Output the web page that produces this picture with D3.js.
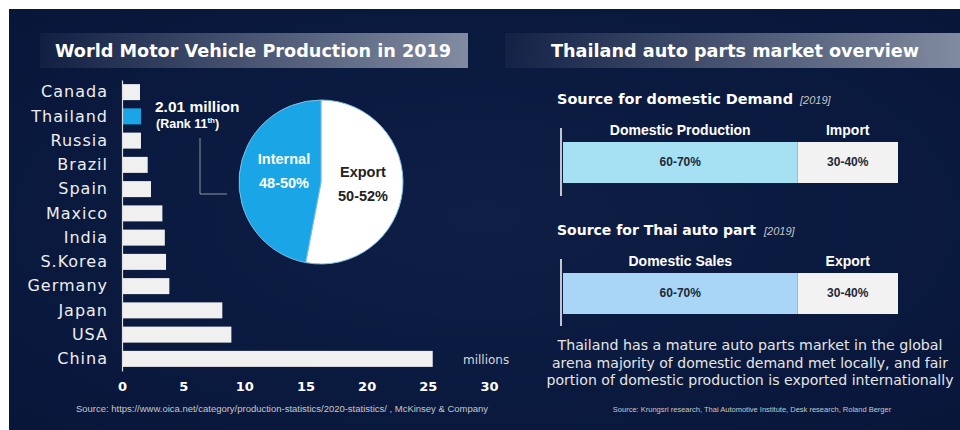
<!DOCTYPE html>
<html>
<head>
<meta charset="utf-8">
<script src="https://cdn.jsdelivr.net/npm/d3@7"></script>
<style>
  html, body { margin: 0; padding: 0; background: #ffffff; }
  svg { display: block; }
</style>
</head>
<body>
<svg id="mainSVG"></svg>
<script>
/* ---------- size ---------- */

var WIDTH = 960,
    HEIGHT = 430;

/* ---------- data ---------- */

var countries = ["Canada", "Thailand", "Russia", "Brazil", "Spain", "Maxico",
                 "India", "S.Korea", "Germany", "Japan", "USA", "China"];
var production = [1.47, 1.55, 1.55, 2.1, 2.37, 3.3, 3.5, 3.6, 3.87, 8.2, 8.94, 25.4];
var xTicks = [0, 5, 10, 15, 20, 25, 30];

var pieLabels = ["Export", "Internal"];
var pieValues = [53, 47];
var pieTexts = ["50-52%", "48-50%"];

var demandParts = ["Domestic Production", "Import"];
var demandValues = [70, 30];
var partParts = ["Domestic Sales", "Export"];
var partValues = [70, 30];
var shareTexts = ["60-70%", "30-40%"];

var noteLines = [
    "Thailand has a mature auto parts market in the global",
    "arena majority of domestic demand met locally, and fair",
    "portion of domestic production is exported internationally"
];

/* ---------- colours ---------- */

var barColor = "#f0f0f0",
    thaiColor = "#1aa6e6",
    textColor = "#eeeeee",
    lightBlue1 = "#a6e0f3",
    lightBlue2 = "#a9d6f6",
    greyWhite = "#f2f2f2",
    darkText = "#1c2838";

var geo = "'DejaVu Sans', 'Open Sans', sans-serif",
    arial = "'Liberation Sans', Arial, sans-serif";

/* ---------- svg ---------- */

var svg = d3.select("#mainSVG")
    .attr("width", WIDTH)
    .attr("height", HEIGHT);

var defs = svg.append("defs");

var grad = defs.append("linearGradient")
    .attr("id", "bandGrad")
    .attr("x1", "0%").attr("x2", "100%");
grad.append("stop").attr("offset", "0%").attr("stop-color", "#b4bccb").attr("stop-opacity", 0.05);
grad.append("stop").attr("offset", "100%").attr("stop-color", "#b4bccb").attr("stop-opacity", 0.7);

var bgGrad = defs.append("radialGradient")
    .attr("id", "bgGrad")
    .attr("cx", "50%").attr("cy", "50%").attr("r", "70%");
bgGrad.append("stop").attr("offset", "0%").attr("stop-color", "#0e1e45");
bgGrad.append("stop").attr("offset", "100%").attr("stop-color", "#08163a");

svg.append("rect")
    .attr("x", 9).attr("y", 9)
    .attr("width", WIDTH - 9).attr("height", HEIGHT - 9)
    .attr("fill", "url(#bgGrad)");

// cut-off slide title above the panel
svg.append("text")
    .attr("x", 373).attr("y", -4)
    .attr("font-family", geo).attr("font-size", 20).attr("font-weight", "bold")
    .attr("fill", "#2a4a8a")
    .text("p");

/* ---------- title bands ---------- */

function titleBand(x0, x1, label, cx, len) {
    svg.append("rect")
        .attr("x", x0).attr("y", 33)
        .attr("width", x1 - x0).attr("height", 35)
        .attr("fill", "url(#bandGrad)");
    svg.append("text")
        .attr("x", cx).attr("y", 57)
        .attr("text-anchor", "middle")
        .attr("font-family", geo).attr("font-size", 18).attr("font-weight", "bold")
        .attr("fill", "#ffffff")
        .attr("textLength", len).attr("lengthAdjust", "spacingAndGlyphs")
        .text(label);
}

titleBand(40, 468, "World Motor Vehicle Production in 2019", 253, 396);
titleBand(505, 960, "Thailand auto parts market overview", 735, 368);

/* ---------- bar chart ---------- */

var x = d3.scaleLinear().domain([0, 30]).range([122, 489]);

var y = d3.scaleBand()
    .domain(countries)
    .range([80, 371])
    .paddingInner(0.34)
    .paddingOuter(0.17);

svg.selectAll(".bar")
    .data(countries)
  .enter().append("rect")
    .attr("class", "bar")
    .attr("x", x(0))
    .attr("y", function(d) { return y(d); })
    .attr("width", function(d, i) { return x(production[i]) - x(0); })
    .attr("height", y.bandwidth())
    .attr("fill", function(d) { return d == "Thailand" ? thaiColor : barColor; });

var yAxis = svg.append("g")
    .attr("transform", "translate(" + x(0) + ",0)")
    .call(d3.axisLeft(y).tickSize(0).tickPadding(14));
yAxis.select(".domain").attr("stroke", "#e0e0e0").attr("stroke-width", 1.2);
yAxis.selectAll("text")
    .attr("font-family", geo).attr("font-size", 16)
    .attr("letter-spacing", 1)
    .attr("fill", textColor);

var xAxis = svg.append("g")
    .attr("transform", "translate(0,378)")
    .call(d3.axisBottom(x).tickValues(xTicks).tickSize(0).tickPadding(0));
xAxis.select(".domain").remove();
xAxis.selectAll("text")
    .attr("dy", "1em")
    .attr("font-family", geo).attr("font-size", 13).attr("font-weight", "bold")
    .attr("fill", "#ffffff");

svg.append("text")
    .attr("x", 463).attr("y", 364)
    .attr("font-family", geo).attr("font-size", 12)
    .attr("fill", "#d8d8d8")
    .text("millions");

/* ---------- Thailand callout ---------- */

svg.append("text")
    .attr("x", 155).attr("y", 112)
    .attr("font-family", arial).attr("font-size", 15.5).attr("font-weight", "bold")
    .attr("fill", "#ffffff")
    .text("2.01 million");

var rank = svg.append("text")
    .attr("x", 156).attr("y", 128)
    .attr("font-family", arial).attr("font-size", 12.5).attr("font-weight", "bold")
    .attr("fill", "#ffffff");
rank.append("tspan").text("(Rank 11");
rank.append("tspan").attr("font-size", 8).attr("dy", -5).text("th");
rank.append("tspan").attr("dy", 5).text(")");

svg.append("path")
    .attr("d", "M200,138V194H227")
    .attr("fill", "none")
    .attr("stroke", "#8a96a8")
    .attr("stroke-width", 1);

/* ---------- pie ---------- */

var pieG = svg.append("g").attr("transform", "translate(321,182)");

var pie = d3.pie().sort(null).value(function(d) { return d; });
var arc = d3.arc().innerRadius(0).outerRadius(82);

pieG.selectAll("path")
    .data(pie(pieValues))
  .enter().append("path")
    .attr("d", arc)
    .attr("fill", function(d, i) { return i == 0 ? "#ffffff" : thaiColor; })
    .attr("stroke", "#7fbfe6")
    .attr("stroke-width", 1);

var pieLabelPos = [[42, -5], [-37, -18]];
pieLabels.forEach(function(lab, i) {
    var t = pieG.append("text")
        .attr("x", pieLabelPos[i][0]).attr("y", pieLabelPos[i][1])
        .attr("text-anchor", "middle")
        .attr("font-family", arial).attr("font-size", 14.5).attr("font-weight", "bold")
        .attr("fill", i == 0 ? "#222222" : "#ffffff");
    t.append("tspan").attr("x", pieLabelPos[i][0]).text(lab);
    t.append("tspan").attr("x", pieLabelPos[i][0]).attr("dy", 23.5).text(pieTexts[i]);
});

/* ---------- right stacked bars ---------- */

var xs = d3.scaleLinear().domain([0, 100]).range([563, 898]);

function shareBlock(top, title, titleLen, year, yearX, parts, values, fill, lineEnd) {
    svg.append("text")
        .attr("x", 557).attr("y", top - 38)
        .attr("font-family", geo).attr("font-size", 14).attr("font-weight", "bold")
        .attr("fill", "#ffffff")
        .attr("textLength", titleLen).attr("lengthAdjust", "spacingAndGlyphs")
        .text(title);
    svg.append("text")
        .attr("x", yearX).attr("y", top - 38)
        .attr("font-family", arial).attr("font-size", 11).attr("font-style", "italic")
        .attr("fill", "#c8c8c8")
        .text(year);

    svg.append("line")
        .attr("x1", 561).attr("x2", 561)
        .attr("y1", top - 14).attr("y2", lineEnd)
        .attr("stroke", "#ffffff").attr("stroke-width", 1.5);

    var stack = [];
    var acc = 0;
    values.forEach(function(v) { stack.push([acc, acc + v]); acc += v; });

    svg.selectAll(null)
        .data(stack)
      .enter().append("rect")
        .attr("x", function(d) { return xs(d[0]); })
        .attr("y", top)
        .attr("width", function(d) { return xs(d[1]) - xs(d[0]); })
        .attr("height", 41)
        .attr("fill", function(d, i) { return i == 0 ? fill : greyWhite; });

    svg.selectAll(null)
        .data(stack)
      .enter().append("text")
        .attr("x", function(d) { return (xs(d[0]) + xs(d[1])) / 2; })
        .attr("y", top - 7)
        .attr("text-anchor", "middle")
        .attr("font-family", arial).attr("font-size", 14).attr("font-weight", "bold")
        .attr("fill", "#ffffff")
        .text(function(d, i) { return parts[i]; });

    svg.selectAll(null)
        .data(stack)
      .enter().append("text")
        .attr("x", function(d) { return (xs(d[0]) + xs(d[1])) / 2; })
        .attr("y", top + 24)
        .attr("text-anchor", "middle")
        .attr("font-family", arial).attr("font-size", 12).attr("font-weight", "bold")
        .attr("fill", darkText)
        .text(function(d, i) { return shareTexts[i]; });
}

shareBlock(142, "Source for domestic Demand", 236, "[2019]", 800, demandParts, demandValues, lightBlue1, 196);
shareBlock(273, "Source for Thai auto part", 199, "[2019]", 764, partParts, partValues, lightBlue2, 326);

/* ---------- note ---------- */

var noteLen = [385, 396, 407];
svg.selectAll(".note")
    .data(noteLines)
  .enter().append("text")
    .attr("class", "note")
    .attr("x", 750)
    .attr("y", function(d, i) { return 350 + i * 17.5; })
    .attr("text-anchor", "middle")
    .attr("font-family", geo).attr("font-size", 14)
    .attr("fill", "#e6e6e6")
    .attr("textLength", function(d, i) { return noteLen[i]; })
    .attr("lengthAdjust", "spacingAndGlyphs")
    .text(function(d) { return d; });

/* ---------- sources ---------- */

svg.append("text")
    .attr("x", 282).attr("y", 412)
    .attr("text-anchor", "middle")
    .attr("font-family", arial).attr("font-size", 8.5)
    .attr("fill", "#c8c8c8")
    .attr("textLength", 412).attr("lengthAdjust", "spacingAndGlyphs")
    .text("Source: https://www.oica.net/category/production-statistics/2020-statistics/ , McKinsey & Company");

svg.append("text")
    .attr("x", 752).attr("y", 412)
    .attr("text-anchor", "middle")
    .attr("font-family", arial).attr("font-size", 7.5)
    .attr("fill", "#c8c8c8")
    .text("Source: Krungsri research, Thai Automotive Institute, Desk research, Roland Berger");
</script>
</body>
</html>
